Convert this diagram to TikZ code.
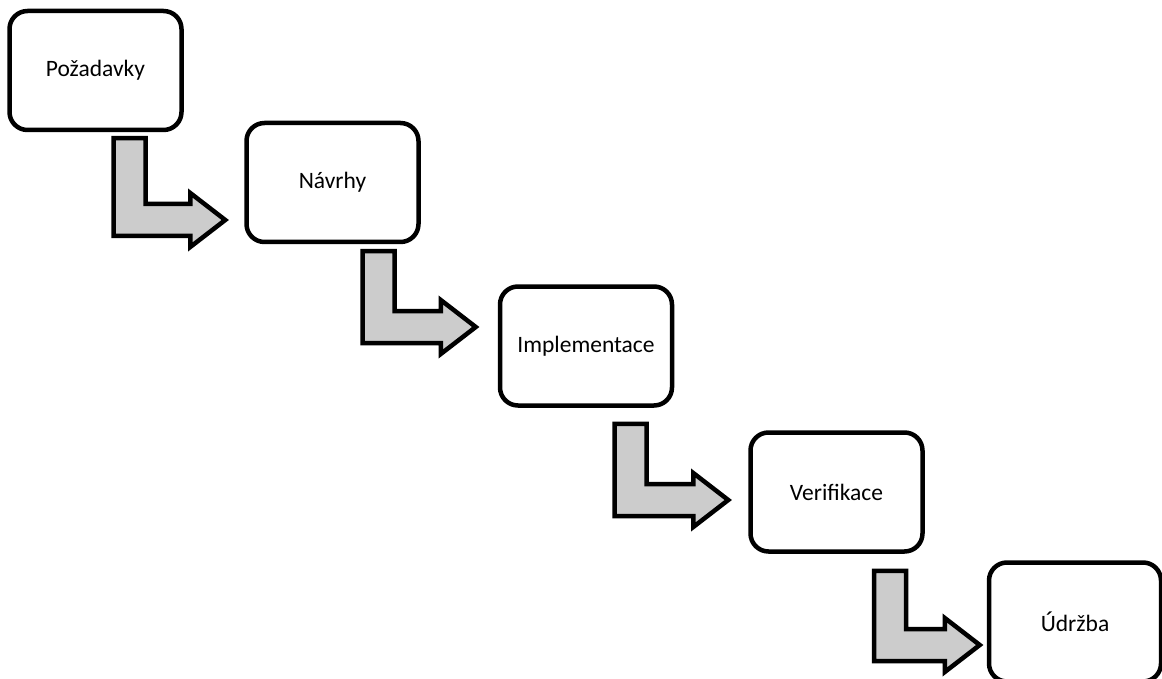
\documentclass[tikz,border=0pt]{standalone}
\usepackage{fontspec}
\setmainfont{Carlito}
\usetikzlibrary{calc}

\tikzset{
  phase/.style={draw=black, line width=4.5pt, rounded corners=18pt, fill=white,
    minimum width=172pt, minimum height=119pt, inner sep=0pt,
    font=\fontsize{23.5}{28}\selectfont},
  blockarrow/.style={draw=black, line width=4.5pt, fill=black!20, line join=miter}
}

% L-shaped block arrow: #1 = top centre of the stem, #2 = tip
\newcommand\bentarrow[2]{%
  \draw[blockarrow]
    ($(#1)+(-16,0)$) -- ($(#1)+(16,0)$)
    -- ($(#1 |- #2)+(16,-16)$) -- ($(#2)+(-35,-16)$)
    -- ($(#2)+(-35,-27)$) -- (#2) -- ($(#2)+(-35,27)$)
    -- ($(#2)+(-35,16)$) -- ($(#1 |- #2)+(-16,16)$) -- cycle;}

\begin{document}
\begin{tikzpicture}[x=1pt, y=-1pt]
  \useasboundingbox (0,0) rectangle (1162,679);
  \clip (0,0) rectangle (1162,679);

  % phases of the waterfall
  \node[phase] (b1) at (95.5,70.5) {Požadavky};
  \node[phase] (b2) at (332.5,182.5) {Návrhy};
  \node[phase] (b3) at (586,346) {Implementace};
  \node[phase] (b4) at (836.5,492) {Verifikace};
  \node[phase] (b5) at (1075,622) {Údržba};

  % stem tops and tips of the connecting arrows
  \coordinate (s1) at ($(b1.south)+(34,6)$);
  \coordinate (t1) at ($(b2.west)+(-19,37.5)$);
  \coordinate (s2) at ($(b2.south)+(46,7)$);
  \coordinate (t2) at ($(b3.west)+(-22,-19)$);
  \coordinate (s3) at ($(b3.south)+(44.5,16)$);
  \coordinate (t3) at ($(b4.west)+(-20,8)$);
  \coordinate (s4) at ($(b4.south)+(53.5,17)$);
  \coordinate (t4) at ($(b5.west)+(-7,23)$);

  \bentarrow{s1}{t1}
  \bentarrow{s2}{t2}
  \bentarrow{s3}{t3}
  \bentarrow{s4}{t4}
\end{tikzpicture}
\end{document}
